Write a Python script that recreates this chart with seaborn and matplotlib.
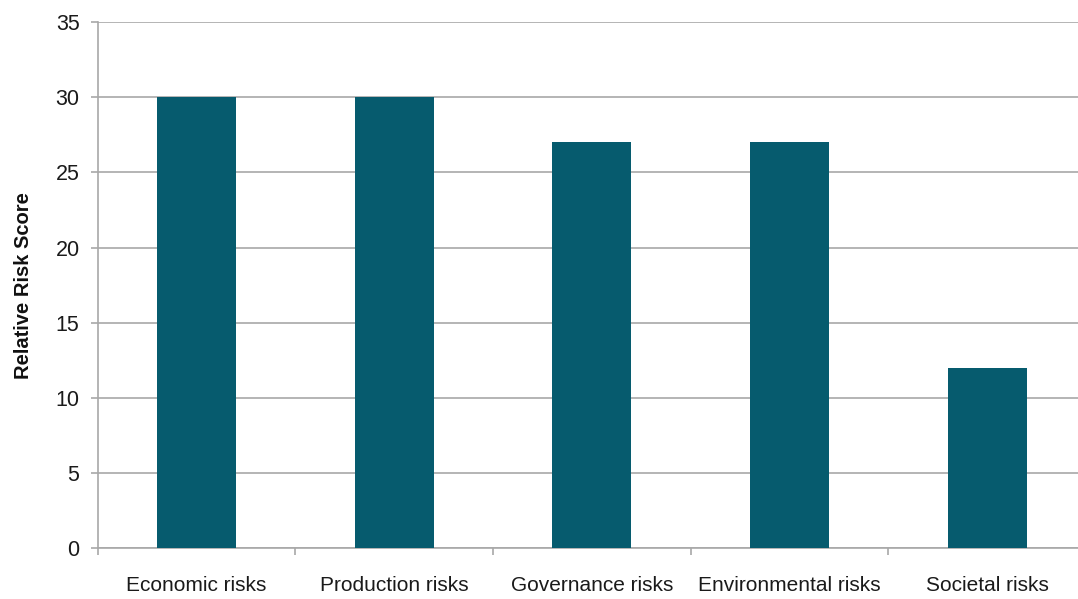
import matplotlib
matplotlib.use("Agg")
import matplotlib.pyplot as plt
import seaborn as sns
import pandas as pd
import numpy as np

categories = ["Economic risks", "Production risks", "Governance risks", "Environmental risks", "Societal risks"]
scores = [30, 30, 27, 27, 12]
yticks = [0, 5, 10, 15, 20, 25, 30, 35]

sns.set_theme(style="white")
plt.rcParams['font.family'] = ['Liberation Sans', 'DejaVu Sans']

df = pd.DataFrame({"category": categories, "score": scores})

fig = plt.figure(figsize=(10.78, 5.99), dpi=100)
ax = fig.add_axes([0.0905, 0.085, 0.917, 0.878])
sns.barplot(data=df, x="category", y="score", color="#065b6e", width=0.40,
            saturation=1, linewidth=0, edgecolor="none", ax=ax, zorder=3)
ax.set_ylim(0, 35)
ax.set_xlim(-0.5, len(categories) - 0.5)
ax.set_yticks(yticks)
ax.set_yticklabels([str(v) for v in yticks], fontsize=15.5, color="#1a1a1a")
ax.yaxis.grid(True, color="#a8a8a8", linewidth=1.2, zorder=0)
ax.set_axisbelow(True)
ax.tick_params(axis="y", length=5, width=1.2, color="#a8a8a8", pad=8, left=True)
ax.tick_params(axis="x", which="major", length=0, pad=20, labelsize=15, labelcolor="#1a1a1a")
ax.set_xticks(np.arange(-0.5, len(categories), 1.0), minor=True)
ax.tick_params(axis="x", which="minor", length=5, width=1.2, color="#a8a8a8", bottom=True)
ax.set_xlabel("")
ax.set_ylabel("Relative Risk Score", fontsize=14.5, fontweight="bold", labelpad=16, color="#111111")
for s in ["top", "right"]:
    ax.spines[s].set_visible(False)
for s in ["left", "bottom"]:
    ax.spines[s].set_color("#a8a8a8")
    ax.spines[s].set_linewidth(1.2)

fig.savefig("out.png", dpi=100)
